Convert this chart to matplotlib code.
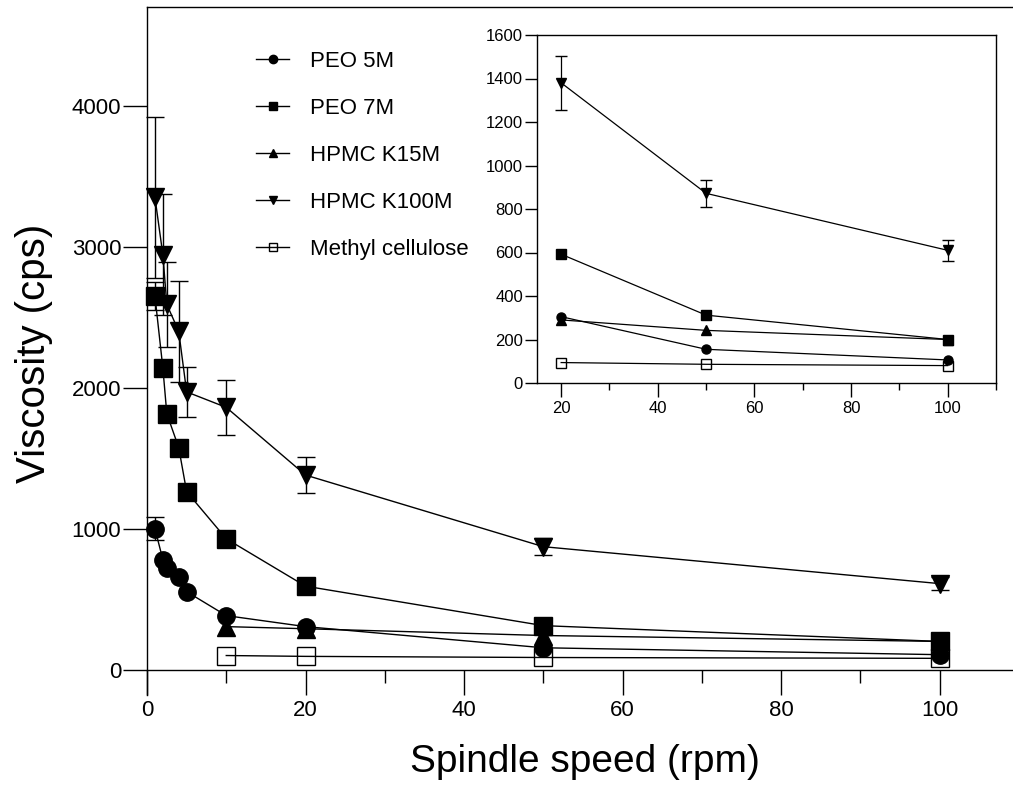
import numpy as np
import matplotlib
matplotlib.use('Agg')
import matplotlib.pyplot as plt
from matplotlib.lines import Line2D
from matplotlib.ticker import MultipleLocator

plt.rcParams['font.family'] = ['Liberation Sans', 'DejaVu Sans']

# --------- data ---------
speed = [1, 2, 2.5, 4, 5, 10, 20, 50, 100]
speed_hi = [10, 20, 50, 100]

peo5m = [1000, 780, 723, 660, 553, 383, 305, 155, 106]
peo5m_err = [80, np.nan, np.nan, np.nan, np.nan, np.nan, np.nan, np.nan, np.nan]

peo7m = [2650, 2140, 1815, 1575, 1262, 928, 592, 312, 200]
peo7m_err = [100, np.nan, np.nan, np.nan, np.nan, np.nan, np.nan, np.nan, np.nan]

k100m = [3350, 2943, 2590, 2400, 1970, 1860, 1380, 872, 610]
k100m_err = [570, 430, 300, 360, 180, 195, 125, 62, 48]

k15m = [305, 290, 242, 200]
mc = [100, 94, 86, 80]

labels = ['PEO 5M', 'PEO 7M', 'HPMC K15M', 'HPMC K100M', 'Methyl cellulose']

# --------- figure ---------
W, H = 1013, 789
fig = plt.figure(figsize=(W / 100, H / 100), dpi=100)

def px_axes(l, t, r, b):
    return [l / W, 1 - b / H, (r - l) / W, (b - t) / H]

ax = fig.add_axes(px_axes(147, 7, 1019, 695))
ins = fig.add_axes(px_axes(537, 35, 996, 383))

series = [
    (speed, peo5m, peo5m_err, 'o', 'k'),
    (speed, peo7m, peo7m_err, 's', 'k'),
    (speed_hi, k15m, None, '^', 'k'),
    (speed, k100m, k100m_err, 'v', 'k'),
    (speed_hi, mc, None, 's', 'none'),
]

# main plot
for x, y, e, m, fc in series:
    ax.errorbar(x, y, yerr=e, fmt='-', marker=m, color='k', mfc=fc, mec='k',
                ms=12.5, mew=1.0, lw=1.0, elinewidth=1.0, capsize=6.5, capthick=1.0,
                clip_on=False)

ax.set_xlim(0, 110)
ax.set_ylim(-180, 4700)
ax.spines['bottom'].set_position(('data', 0))
for s in ax.spines.values():
    s.set_linewidth(1.0)
ax.xaxis.set_major_locator(MultipleLocator(20))
ax.xaxis.set_minor_locator(MultipleLocator(10))
ax.set_yticks([0, 1000, 2000, 3000, 4000])
ax.tick_params(axis='x', which='major', direction='out', length=18, width=1.0,
               labelsize=16, pad=4)
ax.tick_params(axis='x', which='minor', direction='out', length=9.5, width=1.0)
ax.tick_params(axis='y', which='major', direction='out', length=17.5, width=1.0,
               labelsize=16, pad=1)

ax.set_xlabel('Spindle speed (rpm)', fontsize=28)
ax.xaxis.set_label_coords(0.502, -0.071)
ax.set_ylabel('Viscosity (cps)', fontsize=29)
ax.yaxis.set_label_coords(-0.108, 0.496)

# legend
handles = [Line2D([], [], color='k', lw=1.0, marker=m, ms=6, mfc=fc, mec='k', mew=1.0)
           for (_, _, _, m, fc) in series]
leg = fig.legend(handles, labels, loc='upper left',
                 bbox_to_anchor=(256 / W, 1 - 51 / H), frameon=False, fontsize=16,
                 handlelength=1.5, handletextpad=0.95, labelspacing=1.17,
                 borderpad=0, borderaxespad=0)

# inset
for x, y, e, m, fc in series:
    xs = [xx for xx in x if xx >= 20]
    ys = y[-len(xs):]
    es = None if e is None else e[-len(xs):]
    ins.errorbar(xs, ys, yerr=es, fmt='-', marker=m, color='k', mfc=fc, mec='k',
                 ms=6.5, mew=1.0, lw=0.9, elinewidth=0.9, capsize=4, capthick=0.9)

ins.set_xlim(15, 110)
ins.set_ylim(0, 1600)
ins.xaxis.set_major_locator(MultipleLocator(20))
ins.xaxis.set_minor_locator(MultipleLocator(10))
ins.yaxis.set_major_locator(MultipleLocator(200))
for s in ins.spines.values():
    s.set_linewidth(1.0)
ins.tick_params(axis='x', which='major', direction='out', length=10, width=1.0,
                labelsize=12, pad=3)
ins.tick_params(axis='x', which='minor', direction='out', length=5, width=1.0)
ins.tick_params(axis='y', which='major', direction='out', length=9, width=1.0,
                labelsize=12, pad=1)

fig.savefig('out.png', dpi=100)
